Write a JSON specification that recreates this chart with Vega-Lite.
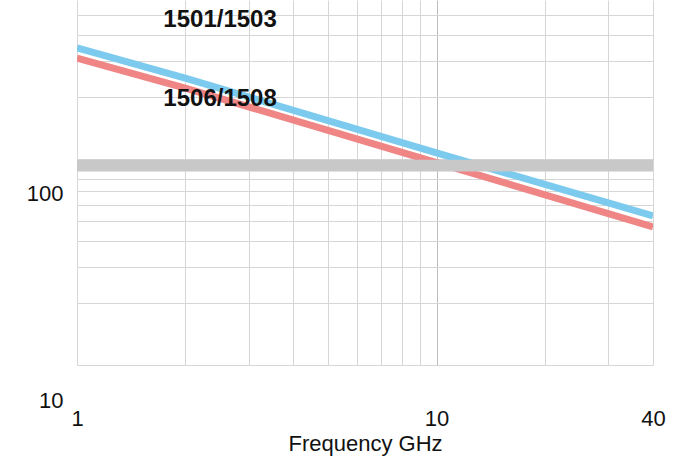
{
  "$schema": "https://vega.github.io/schema/vega-lite/v6.json",
  "width": 576,
  "height": 365,
  "autosize": {"type": "none"},
  "padding": {"left": 77, "top": 0, "right": 25, "bottom": 92},
  "background": "white",
  "config": {
    "view": {"stroke": null},
    "font": "Liberation Sans",
    "axis": {
      "gridColor": "#d6d6d6",
      "gridWidth": 1,
      "domain": false,
      "ticks": false,
      "labelFont": "Liberation Sans",
      "labelFontSize": 22,
      "labelColor": "#111111",
      "labelOverlap": false,
      "labelBound": false,
      "labelFlush": false,
      "titleFont": "Liberation Sans",
      "titleFontWeight": "normal",
      "titleColor": "#111111"
    }
  },
  "layer": [
    {
      "data": {
        "values": [
          {"series": "1501/1503", "freq": 1, "value": 346},
          {"series": "1501/1503", "freq": 2, "value": 247},
          {"series": "1501/1503", "freq": 10, "value": 107},
          {"series": "1501/1503", "freq": 40, "value": 52.9},
          {"series": "1506/1508", "freq": 1, "value": 309},
          {"series": "1506/1508", "freq": 2, "value": 221},
          {"series": "1506/1508", "freq": 10, "value": 96},
          {"series": "1506/1508", "freq": 40, "value": 46.8}
        ]
      },
      "mark": {"type": "line", "strokeWidth": 7, "clip": true},
      "encoding": {
        "x": {
          "field": "freq",
          "type": "quantitative",
          "scale": {"type": "log", "domain": [1, 40], "nice": false},
          "axis": {
            "values": [1, 2, 3, 4, 5, 6, 7, 8, 9, 10, 20, 30, 40],
            "format": "d",
            "labelExpr": "datum.value == 1 || datum.value == 10 || datum.value == 40 ? datum.label : ''",
            "gridColor": {"condition": {"test": "datum.value == 10", "value": "#bdbdbd"}, "value": "#d6d6d6"},
            "labelPadding": 43,
            "title": "Frequency GHz",
            "titleFontSize": 22,
            "titlePadding": 4
          }
        },
        "y": {
          "field": "value",
          "type": "quantitative",
          "scale": {"type": "log", "domain": [10, 591], "nice": false},
          "axis": {
            "values": [10, 20, 30, 40, 50, 60, 70, 80, 90, 100, 200, 300, 400, 500],
            "format": "d",
            "labelExpr": "datum.value == 10 || datum.value == 100 ? datum.label : ''",
            "labelOffset": 35,
            "labelPadding": 14,
            "title": null
          }
        },
        "color": {
          "field": "series",
          "type": "nominal",
          "scale": {"domain": ["1501/1503", "1506/1508"], "range": ["#7ccbee", "#ef8585"]},
          "legend": null
        }
      }
    },
    {
      "data": {"values": [{"x1": 1, "x2": 40, "y1": 87, "y2": 99}]},
      "mark": {"type": "rect", "color": "#c8c8c8"},
      "encoding": {
        "x": {"field": "x1", "type": "quantitative"},
        "x2": {"field": "x2"},
        "y": {"field": "y1", "type": "quantitative"},
        "y2": {"field": "y2"}
      }
    },
    {
      "data": {
        "values": [
          {"freq": 2.5, "value": 470, "label": "1501/1503"},
          {"freq": 2.5, "value": 195, "label": "1506/1508"}
        ]
      },
      "mark": {"type": "text", "fontSize": 24, "fontWeight": "bold", "font": "Liberation Sans", "color": "#111111", "align": "center", "baseline": "middle"},
      "encoding": {
        "x": {"field": "freq", "type": "quantitative"},
        "y": {"field": "value", "type": "quantitative"},
        "text": {"field": "label"}
      }
    }
  ]
}
